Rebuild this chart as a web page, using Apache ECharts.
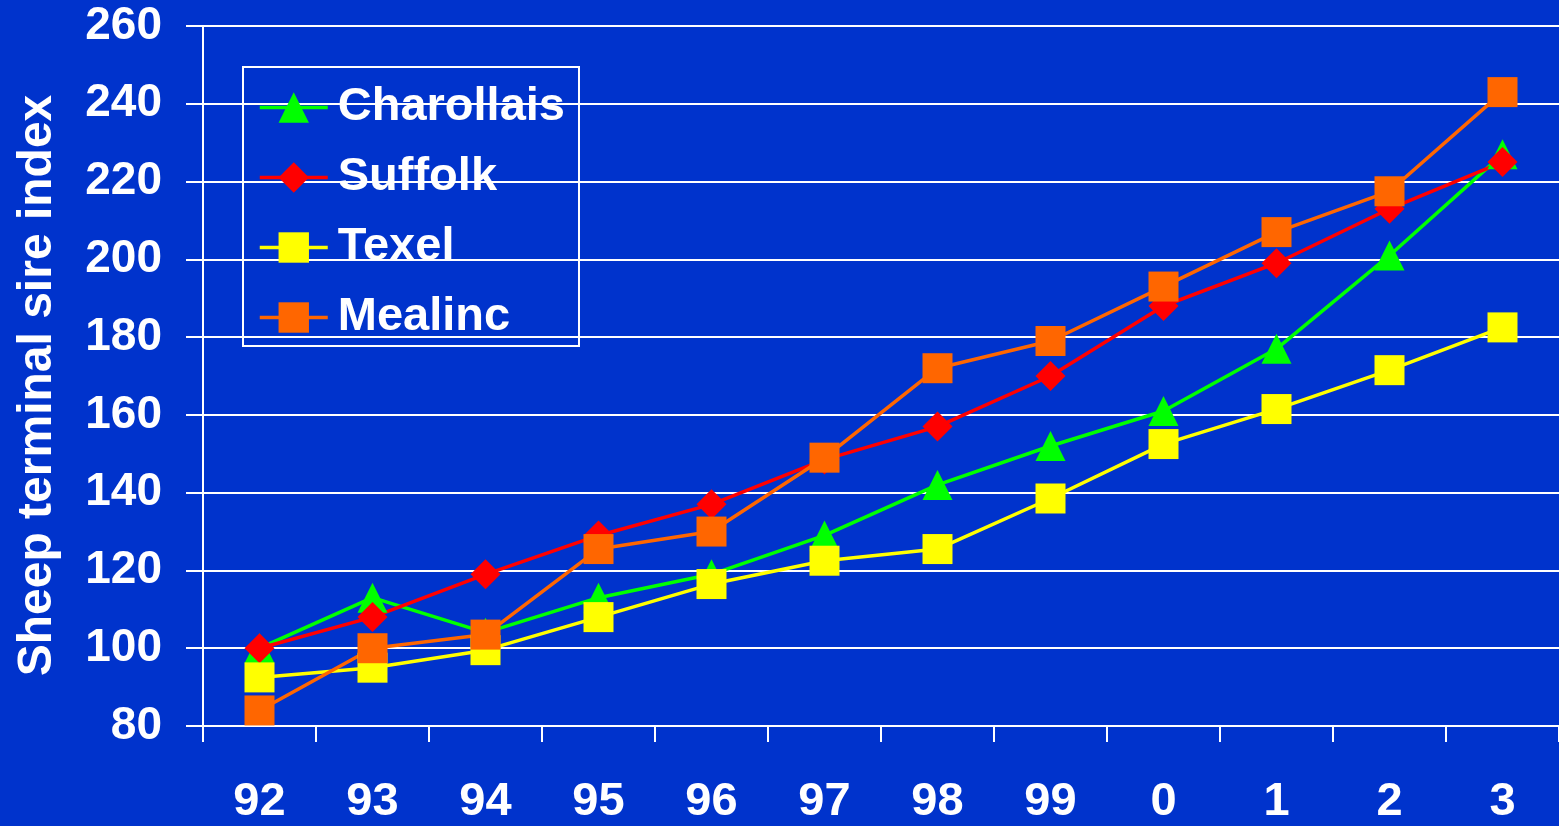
<!DOCTYPE html>
<html>
<head>
<meta charset="utf-8">
<script src="https://cdn.jsdelivr.net/npm/echarts@6/dist/echarts.min.js"></script>
<style>
  html, body { margin: 0; padding: 0; background: #0033cc; }
  #chart { width: 1559px; height: 826px; }
</style>
</head>
<body>
<div id="chart"></div>
<script>
// Years of evaluation (two-digit, 2000 onwards shown as 0..3)
const years = ['92', '93', '94', '95', '96', '97', '98', '99', '0', '1', '2', '3'];

// Sheep terminal sire index by breed
const charollais = [100, 113, 104, 113, 119, 129, 142, 152, 161, 177, 201, 227];
const suffolk    = [100, 108, 119, 129, 137, 148.5, 157, 170, 188, 199, 213, 225];
const texel      = [92.5, 95, 99.5, 108, 116.5, 122.5, 125.5, 138.5, 152.5, 161.5, 171.5, 182.5];
const mealinc    = [84, 100, 103.5, 125.5, 130, 149, 172, 179, 193, 207, 217.5, 243];

const seriesNames = ['Charollais', 'Suffolk', 'Texel', 'Mealinc'];
const seriesData = [charollais, suffolk, texel, mealinc];
const seriesColors = ['#00ff00', '#ff0000', '#ffff00', '#ff6600'];
const seriesSymbols = ['triangle', 'diamond', 'rect', 'rect'];

const FONT = '"Liberation Sans", Arial, sans-serif';

const chart = echarts.init(document.getElementById('chart'), null, { renderer: 'canvas' });

chart.setOption({
  animation: false,
  backgroundColor: '#0033cc',
  grid: { left: 203, right: 0, top: 26, bottom: 96, containLabel: false },
  legend: {
    orient: 'vertical',
    left: 243,
    top: 67,
    borderColor: '#ffffff',
    borderWidth: 2,
    padding: [17, 14, 5, 15],
    itemWidth: 68,
    itemHeight: 38,
    itemGap: 23,
    selectedMode: false,
    lineStyle: { width: 3.5 },
    textStyle: {
      color: '#ffffff',
      fontSize: 47,
      fontWeight: 'bold',
      fontFamily: FONT,
      padding: [0, 0, 0, 5]
    },
    data: seriesNames
  },
  xAxis: {
    type: 'category',
    data: years,
    boundaryGap: true,
    axisLine: { show: true, lineStyle: { color: '#ffffff', width: 2 } },
    axisTick: { show: true, length: 16, lineStyle: { color: '#ffffff', width: 2 } },
    axisLabel: {
      color: '#ffffff',
      fontSize: 47,
      fontWeight: 'bold',
      fontFamily: FONT,
      margin: 53
    },
    splitLine: { show: false }
  },
  yAxis: {
    type: 'value',
    min: 80,
    max: 260,
    interval: 20,
    name: 'Sheep terminal sire index',
    nameLocation: 'middle',
    nameGap: 141,
    nameRotate: 90,
    nameTextStyle: {
      color: '#ffffff',
      fontSize: 48,
      fontWeight: 'bold',
      fontFamily: FONT,
      padding: [0, 19, 0, 0]
    },
    axisLine: { show: true, lineStyle: { color: '#ffffff', width: 2 } },
    axisTick: { show: true, length: 17, lineStyle: { color: '#ffffff', width: 2 } },
    axisLabel: {
      color: '#ffffff',
      fontSize: 46,
      fontWeight: 'bold',
      fontFamily: FONT,
      margin: 41
    },
    splitLine: { show: true, lineStyle: { color: '#ffffff', width: 2 } }
  },
  series: seriesNames.map((name, i) => ({
    name: name,
    type: 'line',
    data: seriesData[i],
    symbol: seriesSymbols[i],
    symbolSize: 30,
    showAllSymbol: true,
    color: seriesColors[i],
    lineStyle: { color: seriesColors[i], width: 3.5 },
    itemStyle: { color: seriesColors[i] },
    emphasis: { disabled: true }
  }))
});
</script>
</body>
</html>
